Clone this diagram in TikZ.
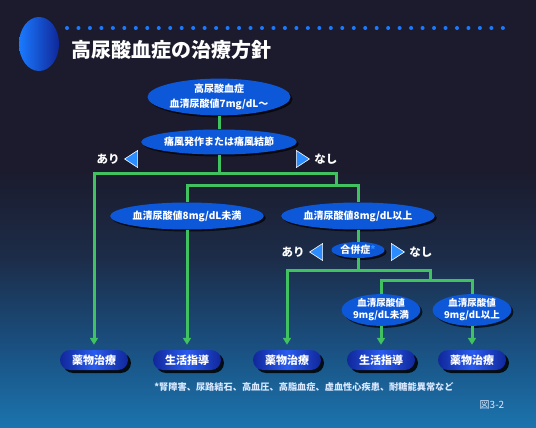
\documentclass[tikz,border=0pt]{standalone}
\usepackage{fontspec}
\setmainfont{Noto Sans CJK JP}
\usetikzlibrary{arrows.meta,positioning,shapes.geometric,shadows}
\definecolor{bgdark}{HTML}{1B1B2D}
\definecolor{bgnavy}{HTML}{1C2C48}
\definecolor{bgmid}{HTML}{1A4E7E}
\definecolor{bgblue}{HTML}{1B74AE}
\definecolor{linkgreen}{HTML}{40C260}
\definecolor{ovalblue}{HTML}{0D58D8}
\definecolor{termlight}{HTML}{2A5CF0}
\definecolor{termdark}{HTML}{10279A}
\definecolor{triblue}{HTML}{2A8CFF}
\definecolor{dotblue}{HTML}{1A7AFF}
\definecolor{notecol}{HTML}{D8E8FF}
\pgfdeclareverticalshading{bgshade}{100bp}{color(0bp)=(bgblue); color(25bp)=(bgblue); color(35bp)=(bgmid); color(45bp)=(bgnavy); color(55bp)=(bgdark); color(100bp)=(bgdark)}

\begin{document}
\begin{tikzpicture}[x=1pt,y=-1pt,
  link/.style={draw=linkgreen,line width=3pt},
  arr/.style={link,-{Triangle[length=7pt,width=8pt]},shorten >=5pt},
  oval/.style={ellipse,fill=ovalblue,text=white,inner sep=0pt,align=center,
    font=\bfseries\fontsize{10}{15}\selectfont,
    drop shadow={shadow xshift=2pt,shadow yshift=-2pt,fill=black,opacity=0.7}},
  term/.style={rectangle,rounded corners=10pt,minimum width=68pt,minimum height=20pt,
    left color=termdark,right color=termdark,middle color=termlight,text=white,
    font=\bfseries\fontsize{11}{11}\selectfont,
    drop shadow={shadow xshift=3pt,shadow yshift=-3pt,fill=black,opacity=0.85}},
  pointer/.style={isosceles triangle,isosceles triangle stretches,minimum height=13pt,
    minimum width=17pt,inner sep=0pt,fill=triblue,draw=white,line width=0.6pt},
  yesno/.style={text=white,font=\bfseries\fontsize{11.5}{11.5}\selectfont,inner sep=0pt}
]
\useasboundingbox (0,0) rectangle (536,428);
\shade[shading=bgshade] (0,0) rectangle (536,428);
% ================= title =================
\shade[left color=dotblue,right color=termdark] (39,44) ellipse (20pt and 27pt);
\foreach \i in {0,...,38} {
  \pgfmathsetmacro{\xx}{67+\i*11.47}
  \fill[dotblue] (\xx,28) circle (2pt);
}
\node[anchor=west,text=white,font=\bfseries\fontsize{20}{20}\selectfont] (title) at (68,50) {高尿酸血症の治療方針};
% ================= upper tree =================
\node[oval,minimum width=143pt,minimum height=31pt] (hyper) at (219,97) {高尿酸血症\\血清尿酸値7mg/dL～};
\node[oval,minimum width=143pt,minimum height=25pt] (gout) at (219,142) {痛風発作または痛風結節};
\node[pointer,shape border rotate=180] (yes1) at (133,159) {};
\node[yesno,left=4pt of yes1] (yes1txt) {あり};
\node[pointer] (no1) at (301,159) {};
\node[yesno,right=4pt of no1] (no1txt) {なし};
\coordinate (j1) at (219,173);
\coordinate (j2) at (336,185);
\node[oval,minimum width=144pt,minimum height=27pt] (lo8) at (187,216) {血清尿酸値8mg/dL未満};
\node[oval,minimum width=145pt,minimum height=27pt] (hi8) at (358,216) {血清尿酸値8mg/dL以上};
% ================= complication branch =================
\node[oval,minimum width=53pt,minimum height=16pt] (comp) at (358,250) {合併症{\color{triblue}*}};
\node[pointer,shape border rotate=180] (yes2) at (318,252) {};
\node[yesno,left=4pt of yes2] (yes2txt) {あり};
\node[pointer] (no2) at (396,252) {};
\node[yesno,right=4pt of no2] (no2txt) {なし};
\coordinate (j3) at (358,270);
\coordinate (j4) at (430,280);
\node[oval,minimum width=73pt,minimum height=30pt,font=\bfseries\fontsize{9.5}{12}\selectfont] (lo9) at (381,310) {血清尿酸値\\9mg/dL未満};
\node[oval,minimum width=71pt,minimum height=30pt,font=\bfseries\fontsize{9.5}{12}\selectfont] (hi9) at (472,310) {血清尿酸値\\9mg/dL以上};
% ================= treatments =================
\node[term] (t1) at (94,360) {薬物治療};
\node[term] (t2) at (187,360) {生活指導};
\node[term] (t3) at (287,360) {薬物治療};
\node[term] (t4) at (381,360) {生活指導};
\node[term] (t5) at (472,360) {薬物治療};
% connectors
\draw[link] (hyper) -- (gout);
\draw[link] (gout.south) -- (j1);
\draw[arr] (j1) -| (t1.north);
\draw[link] (j1) -| (j2);
\draw[link] (j2) -| (lo8.north);
\draw[link] (j2) -| (hi8.north);
\draw[arr] (lo8.south) -- (t2.north);
\draw[link] (hi8.south) -- (comp.north);
\draw[link] (comp.south) -- (j3);
\draw[arr] (j3) -| (t3.north);
\draw[link] (j3) -| (j4);
\draw[link] (j4) -| (lo9.north);
\draw[link] (j4) -| (hi9.north);
\draw[arr] (lo9.south) -- (t4.north);
\draw[arr] (hi9.south) -- (t5.north);
% footnote
\node[text=notecol,font=\bfseries\fontsize{9.2}{9.2}\selectfont] (note) at (304,387) {*腎障害、尿路結石、高血圧、高脂血症、虚血性心疾患、耐糖能異常など};
\node[text=notecol,font=\fontsize{10}{10}\selectfont] (fig) at (492,405) {図3-2};
\end{tikzpicture}
\end{document}
